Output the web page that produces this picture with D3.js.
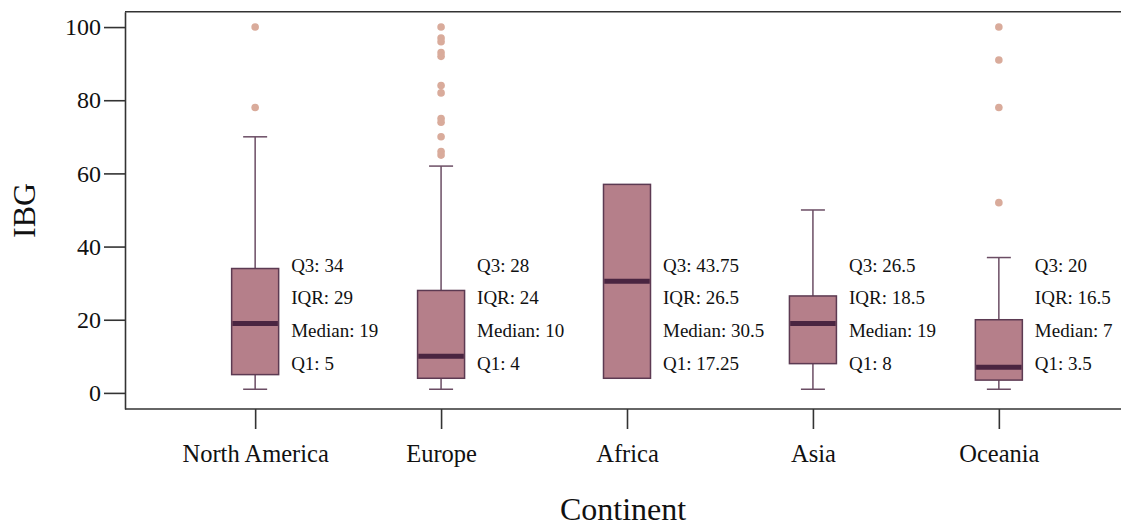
<!DOCTYPE html>
<html>
<head>
<meta charset="utf-8">
<script src="https://cdn.jsdelivr.net/npm/d3@7"></script>
<style>
  html, body { margin: 0; padding: 0; background: #ffffff; }
  svg { display: block; }
  svg text { font-family: "Liberation Serif", "Times New Roman", serif; fill: #111; }
</style>
</head>
<body>
<svg id="chart" width="1121" height="527"></svg>
<script>
// Box-plot summaries of IBG by continent
const continents = ["North America", "Europe", "Africa", "Asia", "Oceania"];
const q1Values     = [5, 4, 17.25, 8, 3.5];
const medianValues = [19, 10, 30.5, 19, 7];
const q3Values     = [34, 28, 43.75, 26.5, 20];
const iqrValues    = [29, 24, 26.5, 18.5, 16.5];
// Box hinges as drawn (Africa has only three observations, so its hinges sit at the extremes)
const hingeLow  = [5, 4, 4, 8, 3.5];
const hingeHigh = [34, 28, 57, 26.5, 20];
const whiskerLow  = [1, 1, 4, 1, 1];
const whiskerHigh = [70, 62, 57, 50, 37];
const outliers = [
  [100, 78],
  [100, 97, 96, 93, 92, 84, 82, 75, 74, 70, 66, 65],
  [],
  [],
  [100, 91, 78, 52]
];
const yTicks = [0, 20, 40, 60, 80, 100];

const svg = d3.select("#chart");
const serif = '"Liberation Serif", "Times New Roman", serif';

const plotLeft = 125, plotRight = 1129, plotTop = 11.7, plotBottom = 409;

const x = d3.scalePoint().domain(continents).range([plotLeft, plotRight]).padding(0.7);
const y = d3.scaleLinear().domain([-4.4, 104.2]).range([plotBottom, plotTop]);

const boxW = 47, capW = 24;

// frame: top border line
svg.append("line")
  .attr("x1", plotLeft).attr("x2", 1126)
  .attr("y1", plotTop).attr("y2", plotTop)
  .attr("stroke", "#333").attr("stroke-width", 1.6);

// y axis
const yAxis = svg.append("g")
  .attr("transform", `translate(${plotLeft},0)`)
  .call(d3.axisLeft(y).tickValues(yTicks).tickSize(21).tickPadding(3).tickSizeOuter(0));
yAxis.attr("font-family", null).attr("font-size", null);
yAxis.select(".domain").attr("stroke", "#333").attr("stroke-width", 1.6);
yAxis.selectAll(".tick line").attr("stroke", "#333").attr("stroke-width", 1.6);
yAxis.selectAll(".tick text")
  .style("font-family", serif).style("font-size", "24px").attr("fill", "#111");

// x axis
const xAxis = svg.append("g")
  .attr("transform", `translate(0,${plotBottom})`)
  .call(d3.axisBottom(x).tickSize(20).tickPadding(16).tickSizeOuter(0));
xAxis.attr("font-family", null).attr("font-size", null);
xAxis.select(".domain").attr("d", `M${plotLeft},0H1126`)
  .attr("stroke", "#333").attr("stroke-width", 1.6);
xAxis.selectAll(".tick line").attr("stroke", "#333").attr("stroke-width", 1.6);
xAxis.selectAll(".tick text")
  .style("font-family", serif).style("font-size", "24.5px").attr("fill", "#111");

// axis titles
svg.append("text")
  .attr("x", (plotLeft + 1121) / 2).attr("y", 520)
  .attr("text-anchor", "middle")
  .style("font-family", serif).style("font-size", "32px")
  .text("Continent");
svg.append("text")
  .attr("transform", `translate(35,${(plotTop + plotBottom) / 2}) rotate(-90)`)
  .attr("text-anchor", "middle")
  .style("font-family", serif).style("font-size", "32px")
  .text("IBG");

const whiskerColor = "#6b4d64";
const groups = svg.append("g").selectAll("g")
  .data(continents.map((c, i) => ({ c, i })))
  .join("g");

groups.each(function (d) {
  const g = d3.select(this);
  const cx = x(d.c);
  // whiskers with caps
  if (whiskerHigh[d.i] > hingeHigh[d.i]) {
    g.append("line").attr("x1", cx).attr("x2", cx)
      .attr("y1", y(hingeHigh[d.i])).attr("y2", y(whiskerHigh[d.i]))
      .attr("stroke", whiskerColor).attr("stroke-width", 1.5);
    g.append("line").attr("x1", cx - capW / 2).attr("x2", cx + capW / 2)
      .attr("y1", y(whiskerHigh[d.i])).attr("y2", y(whiskerHigh[d.i]))
      .attr("stroke", whiskerColor).attr("stroke-width", 1.5);
  }
  if (whiskerLow[d.i] < hingeLow[d.i]) {
    g.append("line").attr("x1", cx).attr("x2", cx)
      .attr("y1", y(hingeLow[d.i])).attr("y2", y(whiskerLow[d.i]))
      .attr("stroke", whiskerColor).attr("stroke-width", 1.5);
    g.append("line").attr("x1", cx - capW / 2).attr("x2", cx + capW / 2)
      .attr("y1", y(whiskerLow[d.i])).attr("y2", y(whiskerLow[d.i]))
      .attr("stroke", whiskerColor).attr("stroke-width", 1.5);
  }
  // box
  g.append("rect")
    .attr("x", cx - boxW / 2).attr("width", boxW)
    .attr("y", y(hingeHigh[d.i])).attr("height", y(hingeLow[d.i]) - y(hingeHigh[d.i]))
    .attr("fill", "#b57f8a").attr("stroke", "#5c3a52").attr("stroke-width", 1.5);
  // median
  g.append("line").attr("x1", cx - boxW / 2 + 0.75).attr("x2", cx + boxW / 2 - 0.75)
    .attr("y1", y(medianValues[d.i])).attr("y2", y(medianValues[d.i]))
    .attr("stroke", "#4a2541").attr("stroke-width", 5);
  // outliers
  g.selectAll("circle").data(outliers[d.i]).join("circle")
    .attr("cx", cx).attr("cy", v => y(v)).attr("r", 3.8)
    .attr("fill", "#d9ab9b");
  // summary annotations, stacked in fixed rows beside each box
  const lines = [
    `Q3: ${q3Values[d.i]}`,
    `IQR: ${iqrValues[d.i]}`,
    `Median: ${medianValues[d.i]}`,
    `Q1: ${q1Values[d.i]}`
  ];
  const rowY = [y(34.85), y(26.05), y(17.05), y(8.05)];
  g.selectAll("text.note").data(lines).join("text")
    .attr("class", "note")
    .attr("x", cx + 36).attr("y", (t, k) => rowY[k])
    .attr("dy", "0.35em")
    .style("font-family", serif).style("font-size", "19px")
    .text(t => t);
});
</script>
</body>
</html>
